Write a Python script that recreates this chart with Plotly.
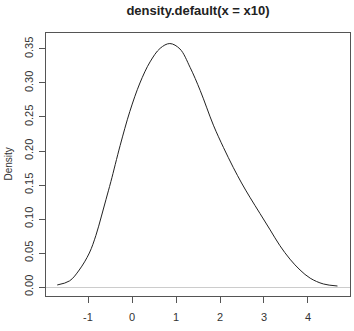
import plotly.graph_objects as go

x_vals = [-1.70, -1.42, -1.20, -0.97, -0.82, -0.70, -0.59, -0.48, -0.27, -0.05,
          0.18, 0.41, 0.64, 0.86, 1.09, 1.32, 1.55, 1.85, 2.08, 2.30,
          2.49, 2.68, 2.91, 3.14, 3.36, 3.59, 3.82, 4.05, 4.35, 4.67]
density = [0.003, 0.009, 0.025, 0.050, 0.076, 0.103, 0.129, 0.155, 0.208, 0.258,
           0.300, 0.331, 0.351, 0.358, 0.350, 0.323, 0.289, 0.238, 0.205, 0.176,
           0.153, 0.132, 0.108, 0.084, 0.061, 0.041, 0.025, 0.013, 0.0045, 0.0015]
x_ticks = [-1, 0, 1, 2, 3, 4]
y_ticks = [0.00, 0.05, 0.10, 0.15, 0.20, 0.25, 0.30, 0.35]

W, H = 354, 331
ml, mr, mt, mb = 46, 4, 33, 35

fig = go.Figure()
fig.add_trace(go.Scatter(x=x_vals, y=density, mode="lines",
                         line=dict(color="#222222", width=1, shape="spline", smoothing=1.0),
                         showlegend=False, hoverinfo="skip"))

fig.update_layout(
    width=W, height=H,
    margin=dict(l=ml, r=mr, t=mt, b=mb, pad=0),
    paper_bgcolor="white", plot_bgcolor="white",
    font=dict(family="Liberation Sans, Arial, sans-serif", size=11, color="#333333"),
    title=dict(text="<b>density.default(x = x10)</b>", x=(ml + (W - ml - mr) / 2) / W,
               xanchor="center", y=1 - 10 / H, yanchor="middle",
               font=dict(size=13, color="#222222")),
)
fig.update_xaxes(range=[-1.955, 4.955], tickvals=x_ticks, ticktext=[str(v) for v in x_ticks],
                 showgrid=False, zeroline=False, showline=True, mirror=True,
                 linecolor="#555555", linewidth=1, ticks="outside", ticklen=6,
                 tickcolor="#555555", ticklabelstandoff=5,
                 tickfont=dict(size=11, color="#333333"))
fig.update_yaxes(range=[-0.0132, 0.3735], tickvals=y_ticks,
                 ticktext=[f"{v:.2f}" for v in y_ticks], tickangle=-90,
                 showgrid=False, zeroline=True, zerolinecolor="#cccccc", zerolinewidth=1,
                 showline=True, mirror=True,
                 linecolor="#555555", linewidth=1, ticks="outside", ticklen=6,
                 tickcolor="#555555", ticklabelstandoff=2,
                 tickfont=dict(size=11, color="#333333"))
fig.add_annotation(text="Density", xref="paper", yref="paper",
                   x=(8 - ml) / (W - ml - mr), y=0.5, xanchor="center", yanchor="middle",
                   textangle=-90, showarrow=False, font=dict(size=10, color="#333333"))

fig.write_html("out.html")
